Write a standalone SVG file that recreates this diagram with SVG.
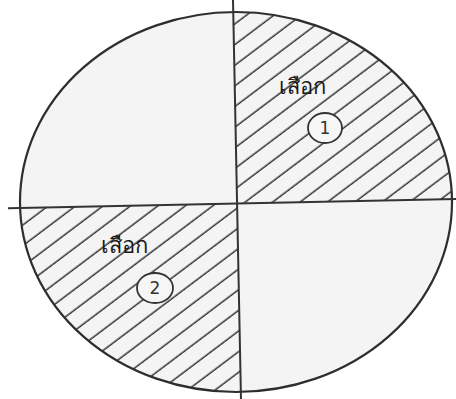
<svg xmlns="http://www.w3.org/2000/svg" width="456" height="399" viewBox="0 0 456 399">
  <style>
    .outline { fill: none; stroke: #2e2e2e; stroke-width: 2.2; }
    .axis { fill: none; stroke: #333; stroke-width: 2; }
    .hatch { stroke: #333; stroke-width: 1.5; }
    .badge { fill: #f6f6f6; stroke: #333; stroke-width: 1.8; }
    .label { font-family: "Noto Sans", "DejaVu Sans", sans-serif; font-size: 22px; fill: #1a1a1a; }
    .num { font-family: "DejaVu Sans", sans-serif; font-size: 17px; fill: #333; text-anchor: middle; }
  </style>
  <defs>
    <pattern id="hatch" patternUnits="userSpaceOnUse" width="30" height="16.5" patternTransform="rotate(-37) translate(0,4)">
      <line class="hatch" x1="-1" y1="8" x2="31" y2="8"/>
    </pattern>
    <clipPath id="ell">
      <ellipse cx="236" cy="202" rx="216" ry="190"/>
    </clipPath>
    <clipPath id="q1">
      <polygon points="233,0 456,0 456,199 237.1,203.4"/>
    </clipPath>
    <clipPath id="q3">
      <polygon points="0,208.2 237.1,203.4 241,399 0,399"/>
    </clipPath>
  </defs>
  <rect width="456" height="399" fill="#ffffff"/>
  <ellipse cx="236" cy="202" rx="216" ry="190" fill="#f4f4f4"/>
  <g id="hatching" clip-path="url(#ell)">
    <rect id="sector-1" x="0" y="0" width="456" height="399" fill="url(#hatch)" clip-path="url(#q1)"/>
    <rect id="sector-2" x="0" y="0" width="456" height="399" fill="url(#hatch)" clip-path="url(#q3)"/>
  </g>
  <g id="connectors">
    <ellipse class="outline" cx="236" cy="202" rx="216" ry="190"/>
    <line class="axis" x1="8" y1="208.2" x2="456" y2="199"/>
    <line class="axis" x1="233" y1="0" x2="241" y2="399"/>
  </g>
  <g id="label-1">
    <text class="label" x="279" y="94">เสือก</text>
    <ellipse class="badge" cx="325" cy="128" rx="17" ry="15"/>
    <text class="num" x="325" y="134">1</text>
  </g>
  <g id="label-2">
    <text class="label" x="101" y="253">เสือก</text>
    <ellipse class="badge" cx="155" cy="288" rx="18" ry="15"/>
    <text class="num" x="155" y="294">2</text>
  </g>
</svg>
